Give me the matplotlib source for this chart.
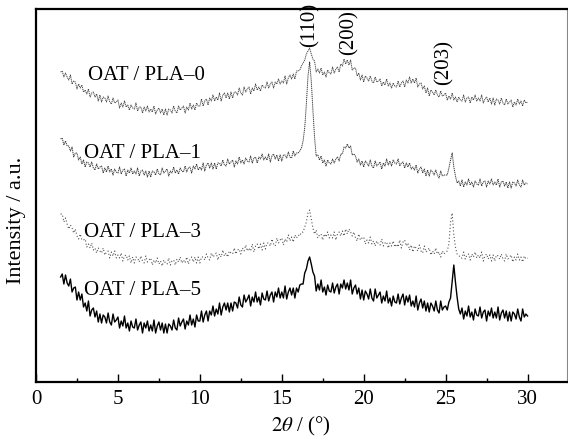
import numpy as np
import matplotlib
matplotlib.use("Agg")
import matplotlib.pyplot as plt

plt.rcParams['font.family'] = ['Liberation Serif', 'DejaVu Serif']
plt.rcParams['mathtext.fontset'] = 'stix'

# 2theta sampling grid (degrees), 1.5 ... 30.0 in 0.1 steps
two_theta = np.round(np.arange(15, 301) / 10.0, 1)

pla0 = [
    310, 311, 305, 309, 305,
    302, 307, 298, 301, 300, 293, 298, 294, 297, 290,
    292, 288, 293, 285, 289, 290, 285, 288, 281, 287,
    280, 285, 284, 280, 286, 280, 278, 284, 279, 280,
    282, 274, 279, 275, 281, 275, 277, 272, 277, 274,
    273, 279, 271, 275, 275, 269, 275, 271, 276, 270,
    273, 270, 276, 268, 272, 274, 269, 273, 267, 273,
    267, 273, 272, 269, 276, 271, 269, 276, 272, 274,
    276, 269, 275, 272, 279, 273, 277, 272, 279, 276,
    276, 283, 276, 281, 283, 277, 284, 281, 287, 281,
    285, 282, 289, 281, 287, 289, 284, 289, 283, 290,
    284, 290, 290, 287, 294, 289, 287, 295, 290, 293,
    295, 288, 294, 291, 298, 292, 295, 291, 297, 295,
    294, 300, 294, 298, 300, 294, 300, 298, 303, 298,
    301, 299, 306, 298, 304, 307, 303, 308, 303, 311,
    311, 312, 316, 319, 322, 328, 331, 334, 328, 323,
    321, 310, 313, 309, 314, 307, 310, 305, 312, 309,
    308, 315, 309, 313, 315, 310, 318, 316, 323, 318,
    322, 317, 322, 312, 314, 314, 306, 309, 302, 307,
    300, 306, 304, 301, 306, 301, 299, 305, 300, 301,
    303, 296, 300, 297, 303, 296, 299, 294, 299, 296,
    295, 301, 295, 299, 301, 295, 302, 299, 305, 299,
    303, 299, 304, 295, 298, 299, 293, 296, 289, 294,
    286, 292, 290, 287, 292, 287, 285, 291, 286, 287,
    289, 282, 286, 283, 289, 282, 285, 280, 285, 282,
    281, 287, 280, 284, 285, 279, 285, 282, 287, 281,
    284, 281, 287, 279, 283, 285, 280, 284, 278, 284,
    277, 283, 282, 278, 284, 279, 277, 283, 278, 280,
    282, 275, 280, 277, 283, 278, 281, 276, 282, 279,
    280,
]

pla1 = [
    243, 244, 237, 241, 236,
    236, 231, 235, 225, 229, 229, 222, 225, 218, 222,
    215, 220, 219, 215, 220, 214, 212, 218, 213, 215,
    216, 209, 214, 210, 216, 210, 213, 207, 213, 210,
    209, 215, 208, 212, 213, 206, 212, 209, 214, 208,
    211, 208, 214, 206, 211, 212, 207, 211, 205, 211,
    205, 211, 210, 207, 213, 208, 207, 214, 209, 211,
    213, 206, 211, 209, 215, 209, 212, 208, 214, 211,
    210, 216, 210, 214, 215, 209, 216, 213, 218, 212,
    215, 212, 219, 211, 217, 219, 214, 219, 213, 219,
    213, 219, 219, 216, 222, 217, 216, 223, 218, 220,
    222, 215, 221, 218, 225, 219, 222, 218, 224, 221,
    220, 226, 219, 224, 225, 219, 225, 223, 228, 222,
    225, 222, 228, 220, 226, 228, 223, 227, 221, 227,
    221, 227, 227, 224, 230, 225, 224, 231, 226, 229,
    229, 231, 234, 241, 254, 278, 306, 320, 301, 272,
    245, 226, 227, 222, 226, 219, 222, 216, 222, 219,
    218, 223, 219, 223, 225, 221, 228, 228, 235, 234,
    238, 234, 236, 227, 228, 226, 220, 223, 217, 221,
    215, 221, 219, 216, 222, 216, 214, 221, 216, 218,
    220, 213, 219, 216, 223, 217, 221, 216, 222, 219,
    218, 223, 216, 219, 220, 214, 219, 215, 219, 213,
    215, 212, 217, 209, 213, 215, 209, 213, 206, 212,
    206, 212, 210, 207, 212, 207, 204, 211, 206, 207,
    207, 207, 214, 222, 229, 215, 206, 199, 201, 196,
    202, 195, 200, 197, 203, 197, 200, 195, 201, 198,
    197, 203, 196, 200, 201, 195, 201, 198, 203, 197,
    200, 197, 203, 195, 200, 201, 196, 200, 194, 200,
    194, 200, 199, 196, 202, 197, 195, 202, 197, 199,
    198,
]

pla3 = [
    168, 168, 160, 164, 158,
    153, 157, 154, 149, 153, 146, 143, 148, 142, 142,
    143, 135, 138, 134, 139, 132, 134, 129, 134, 131,
    129, 134, 127, 130, 131, 124, 130, 126, 131, 124,
    127, 124, 129, 121, 126, 127, 122, 126, 119, 125,
    119, 125, 124, 120, 126, 121, 119, 126, 120, 122,
    124, 117, 122, 119, 124, 118, 121, 116, 122, 119,
    118, 124, 117, 121, 122, 117, 123, 120, 125, 119,
    122, 119, 125, 118, 123, 125, 120, 125, 119, 125,
    119, 125, 125, 122, 128, 124, 122, 129, 125, 127,
    129, 122, 128, 125, 132, 126, 129, 125, 131, 129,
    128, 134, 128, 132, 133, 128, 134, 131, 137, 131,
    134, 131, 138, 130, 136, 138, 133, 138, 132, 139,
    133, 139, 139, 136, 143, 138, 136, 144, 139, 142,
    144, 137, 143, 140, 147, 141, 145, 140, 147, 144,
    147, 146, 150, 150, 155, 160, 169, 172, 163, 154,
    148, 152, 144, 147, 148, 142, 148, 145, 150, 144,
    147, 144, 150, 142, 148, 150, 146, 151, 146, 153,
    148, 153, 150, 146, 150, 144, 141, 148, 142, 144,
    145, 138, 142, 139, 145, 138, 141, 136, 141, 138,
    137, 143, 136, 139, 140, 134, 139, 136, 141, 135,
    138, 135, 142, 134, 140, 142, 136, 139, 132, 137,
    130, 136, 134, 131, 137, 131, 129, 136, 130, 132,
    134, 127, 131, 128, 134, 128, 130, 125, 131, 128,
    130, 131, 138, 160, 169, 147, 135, 128, 127, 124,
    124, 130, 123, 127, 128, 122, 128, 125, 130, 124,
    127, 124, 130, 121, 126, 128, 123, 127, 121, 127,
    121, 127, 126, 123, 128, 123, 121, 128, 123, 125,
    127, 120, 125, 122, 128, 122, 125, 120, 126, 123,
    124,
]

pla5 = [
    105, 108, 98, 107, 99,
    96, 103, 90, 94, 95, 82, 90, 82, 88, 75,
    79, 71, 81, 66, 72, 74, 65, 71, 60, 68,
    59, 67, 65, 59, 69, 60, 57, 68, 60, 62,
    65, 54, 61, 56, 66, 54, 59, 51, 61, 55,
    54, 63, 52, 57, 60, 49, 59, 54, 61, 51,
    57, 51, 62, 49, 56, 60, 52, 59, 49, 58,
    49, 58, 56, 52, 62, 54, 52, 64, 56, 60,
    63, 53, 61, 57, 67, 57, 63, 55, 67, 61,
    61, 71, 60, 67, 71, 61, 71, 67, 76, 66,
    73, 68, 79, 67, 75, 79, 72, 79, 70, 79,
    71, 80, 79, 74, 85, 77, 75, 87, 80, 83,
    87, 76, 85, 80, 90, 80, 85, 77, 89, 83,
    82, 91, 81, 87, 90, 80, 90, 85, 94, 84,
    90, 84, 96, 83, 90, 94, 87, 94, 84, 94,
    90, 97, 98, 98, 109, 113, 121, 125, 118, 110,
    106, 91, 98, 92, 102, 90, 95, 87, 97, 91,
    90, 99, 89, 95, 98, 88, 98, 94, 102, 93,
    99, 92, 102, 88, 94, 97, 88, 94, 83, 92,
    82, 91, 88, 83, 93, 84, 81, 93, 84, 87,
    90, 79, 86, 81, 91, 79, 84, 76, 86, 80,
    79, 88, 78, 84, 88, 77, 86, 80, 87, 76,
    81, 75, 86, 72, 79, 83, 74, 81, 71, 79,
    70, 79, 76, 71, 81, 72, 69, 81, 72, 75,
    76, 72, 80, 84, 101, 117, 100, 85, 73, 68,
    74, 63, 71, 66, 76, 65, 70, 62, 73, 67,
    66, 75, 64, 70, 72, 61, 71, 66, 74, 64,
    70, 64, 75, 62, 69, 72, 64, 71, 61, 70,
    61, 70, 68, 63, 73, 65, 61, 73, 65, 68,
    66,
]

sample_labels = ["OAT / PLA\u20130", "OAT / PLA\u20131", "OAT / PLA\u20133", "OAT / PLA\u20135"]
peak_labels = ["(110)", "(200)", "(203)"]
peak_pos = [16.75, 19.08, 24.88]

fig = plt.figure(figsize=(5.68, 4.40), dpi=100)
ax = fig.add_axes([0.0634, 0.1318, 0.9346, 0.8477])

ax.plot(two_theta, pla0, color='#444444', lw=0.7, ls=(0, (1.2, 0.8)))
ax.plot(two_theta, pla1, color='#333333', lw=0.7, ls=(0, (1.2, 0.8)))
ax.plot(two_theta, pla3, color='#555555', lw=0.8, ls=(0, (1, 2)))
ax.plot(two_theta, pla5, color='black', lw=1.0, ls='-')

ax.set_xlim(0, 32.4)
ax.set_ylim(0, 373)

fs = 15
ax.text(3.2, 307, sample_labels[0], fontsize=fs, va='center', ha='left')
ax.text(2.9, 229, sample_labels[1], fontsize=fs, va='center', ha='left')
ax.text(2.9, 150, sample_labels[2], fontsize=fs, va='center', ha='left')
ax.text(2.9, 92, sample_labels[3], fontsize=fs, va='center', ha='left')

ax.text(peak_pos[0], 357, peak_labels[0], rotation=90, fontsize=fs, ha='center', va='center', clip_on=False)
ax.text(peak_pos[1], 349, peak_labels[1], rotation=90, fontsize=fs, ha='center', va='center')
ax.text(peak_pos[2], 320, peak_labels[2], rotation=90, fontsize=fs, ha='center', va='center')

ax.set_xticks([0, 5, 10, 15, 20, 25, 30])
ax.set_xticks([2.5, 7.5, 12.5, 17.5, 22.5, 27.5], minor=True)
ax.tick_params(axis='x', which='major', direction='in', length=6, width=1.0, labelsize=fs, pad=6)
ax.tick_params(axis='x', which='minor', direction='in', length=3, width=1.0)
ax.set_yticks([])

for s in ['left', 'top', 'bottom']:
    ax.spines[s].set_linewidth(1.6)
    ax.spines[s].set_color('black')
ax.spines['right'].set_linewidth(0.8)
ax.spines['right'].set_color('#888888')

ax.set_xlabel(r'$2\theta$ / (°)', fontsize=fs, labelpad=4)
ax.set_ylabel('Intensity / a.u.', fontsize=16)
ax.yaxis.set_label_coords(-0.018, 0.434)

fig.savefig('out.png', dpi=100)
